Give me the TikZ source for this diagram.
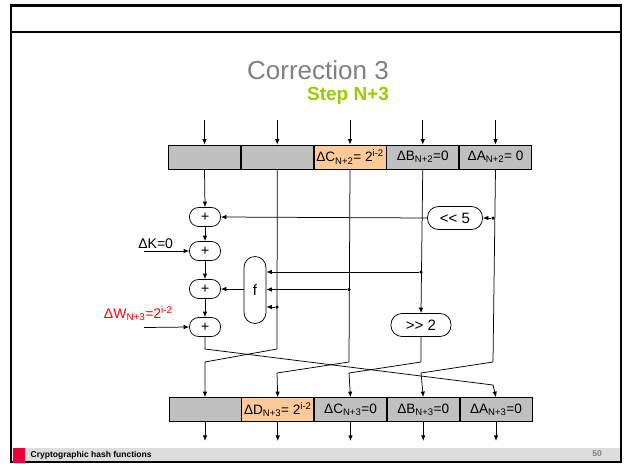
\documentclass[tikz,border=0pt]{standalone}
\usepackage{fontspec}
\setmainfont{Liberation Sans}
\usetikzlibrary{positioning, arrows.meta, calc}

\definecolor{regGray}{RGB}{192,192,192}
\definecolor{regOrange}{RGB}{252,202,152}
\definecolor{titleGray}{RGB}{128,128,128}
\definecolor{stepGreen}{RGB}{153,204,0}
\definecolor{footGray}{RGB}{221,221,221}
\definecolor{footRed}{RGB}{235,0,60}

% register word label: Delta X_sub
\newcommand{\dword}[2]{Δ#1\textsubscript{#2}}

\begin{document}
\begin{tikzpicture}[x=1pt, y=-1pt, line width=0.75pt,
    cell/.style={rectangle, draw, fill=regGray, minimum width=72pt, minimum height=24pt,
                 inner sep=0pt, font=\fontsize{13.6}{15}\selectfont},
    hot/.style={cell, fill=regOrange},
    adder/.style={rectangle, draw, rounded corners=9pt, minimum width=31pt,
                  minimum height=19pt, inner sep=0pt, font=\fontsize{14.5}{16}\selectfont},
    op/.style={rectangle, draw, rounded corners=11pt, minimum height=23pt,
               inner sep=0pt, font=\fontsize{15}{17}\selectfont},
    dot/.style={circle, fill, inner sep=0pt, minimum size=3.5pt},
    arrow/.style={-{Latex[length=5.5pt, width=4.5pt]}},
    lbl/.style={font=\fontsize{14}{16}\selectfont},
  ]
  \useasboundingbox (0,0) rectangle (625,464);

  % slide frame, header line and footer
  \draw[line width=2.5pt] (11,5.5) rectangle (621,462);
  \draw[line width=1.2pt] (11,32) -- (621,32);
  \fill[footGray] (12.5,448) rectangle (619.5,460.5);
  \fill[footRed] (12.5,448) rectangle (25,463);
  \node[anchor=west, font=\bfseries\fontsize{8.5}{10}\selectfont] (foot) at (27,455) {Cryptographic hash functions};
  \node[text=gray, font=\bfseries\fontsize{8.5}{10}\selectfont] (page) at (597,454) {50};

  % titles
  \node[text=titleGray, font=\fontsize{26}{30}\selectfont] (title) at (318,70) {Correction 3};
  \node[text=stepGreen, font=\bfseries\fontsize{19}{22}\selectfont] (step) at (348,96) {Step N+3};

  % registers at step N+2
  \node[cell] (e0) at (204.5,157) {};
  \node[cell, right=0pt of e0] (d0) {};
  \node[hot,  right=0pt of d0] (c0) {\dword{C}{N+2}= 2\textsuperscript{i-2}};
  \node[cell, right=0pt of c0] (b0) {\dword{B}{N+2}=0};
  \node[cell, right=0pt of b0] (a0) {\dword{A}{N+2}= 0};

  % registers at step N+3
  \node[cell] (e1) at (205,409.5) {};
  \node[hot,  right=0pt of e1] (d1) {\dword{D}{N+3}= 2\textsuperscript{i-2}};
  \node[cell, right=0pt of d1] (c1) {\dword{C}{N+3}=0};
  \node[cell, right=0pt of c1] (b1) {\dword{B}{N+3}=0};
  \node[cell, right=0pt of b1] (a1) {\dword{A}{N+3}=0};

  % incoming and outgoing arrows
  \foreach \r in {e,d,c,b,a} {
    \coordinate (\r-in) at ($(\r0.north)+(0,-25)$);
    \coordinate (\r-out) at ($(\r1.south)+(0,19)$);
    \draw[arrow] (\r-in) -- (\r0.north);
    \draw[arrow] (\r1.south) -- (\r-out);
  }

  % adders
  \node[adder] (add1) at (205,217) {+};
  \node[adder] (add2) at (205,251) {+};
  \node[adder] (add3) at (205,289) {+};
  \node[adder] (add4) at (205,327) {+};

  % operations
  \node[op, minimum width=55pt] (rot5) at (455,218) {{<}{<} 5};
  \node[op, minimum width=60pt] (rot2) at (421,325) {{>}{>} 2};
  \node[op, minimum width=22pt, minimum height=67pt] (fbox) at (255,290) {f};

  % taps
  \node[dot] (tapA) at (493,218) {};
  \node[dot] (tapB) at (421,272) {};
  \node[dot] (tapC) at (349,289.5) {};
  \node[dot] (tapD) at (277,307) {};

  % adder chain
  \draw[arrow] (e0.south) -- (add1.north);
  \draw[arrow] (add1) -- (add2);
  \draw[arrow] (add2) -- (add3);
  \draw[arrow] (add3) -- (add4);
  \draw[arrow] (tapA) -- (rot5.east);
  \draw[arrow] (rot5.west) -- (add1.east);
  \draw[arrow] (fbox.west |- add3) -- (add3.east);
  \draw[arrow] (tapB) -- (tapB -| fbox.east);
  \draw[arrow] (tapC) -- (tapC -| fbox.east);
  \draw[arrow] (tapD) -- (tapD -| fbox.east);

  % constants
  \coordinate (kin) at (144,251);
  \coordinate (win) at (144,327.5);
  \draw[arrow] (kin) -- (add2.west);
  \draw[arrow] (win) -- (add4.west);
  \node[lbl, anchor=south west, inner sep=1pt] (klbl) at (137,250) {ΔK=0};
  \node[lbl, text=red, anchor=south east, inner sep=1pt] (wlbl) at (174,322) {ΔW\textsubscript{N+3}=2\textsuperscript{i-2}};

  % rotation of the registers
  \draw[arrow] (b0.south) -- (rot2.north);
  \draw[arrow] (a0.south) -- (493,362) -- (421,373) -- (b1.north);
  \draw[arrow] (rot2.south) -- (421,362) -- (349,373) -- (c1.north);
  \draw[arrow] (c0.south) -- (349,362) -- (277,373) -- (d1.north);
  \draw[arrow] (d0.south) -- (277,349) -- (205,362) -- (e1.north);
  \draw[arrow] (add4.south) -- (205,349) -- (493,385) -- (a1.north);
\end{tikzpicture}
\end{document}
